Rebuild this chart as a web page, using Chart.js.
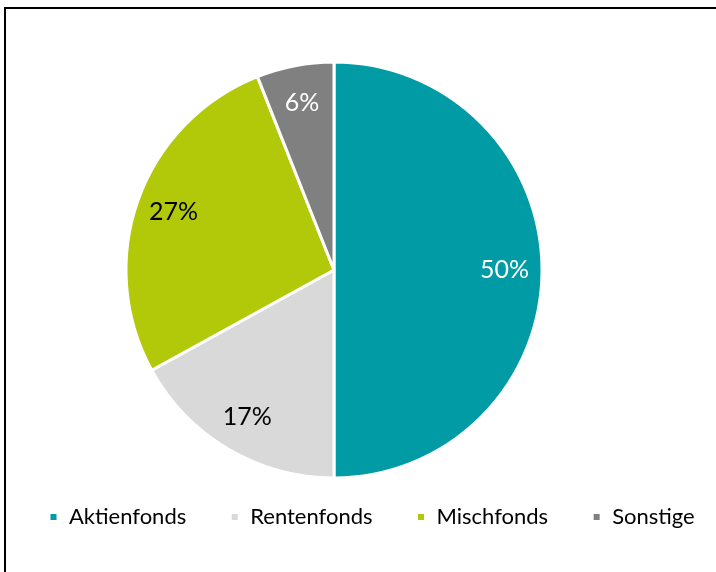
<!DOCTYPE html>
<html>
<head>
<meta charset="utf-8">
<script src="https://cdn.jsdelivr.net/npm/chart.js@4"></script>
<style>
  html, body { margin: 0; padding: 0; background: #fff; overflow: hidden; }
  #wrap { position: relative; width: 716px; height: 572px; overflow: hidden; }
  #frame { position: absolute; left: 4px; top: 7px; right: 0; bottom: 0;
           border-left: 2px solid #000; border-top: 2px solid #000; }
  canvas { position: absolute; left: 0; top: 0; }
</style>
</head>
<body>
<div id="wrap">
  <div id="frame"></div>
  <canvas id="fondsChart" width="760" height="572"></canvas>
</div>
<script>
const categories = ["Aktienfonds", "Rentenfonds", "Mischfonds", "Sonstige"];
const shares = [50, 17, 27, 6];
const sliceColors = ["#009BA4", "#D9D9D9", "#B2C90A", "#808080"];
const labelColors = ["#ffffff", "#000000", "#000000", "#ffffff"];

const FONT = "Lato, 'Open Sans', sans-serif";

// empty box on the right so the pie sits left of the legend's centre
const rightGap = {
  id: "rightGap",
  beforeInit(chart) {
    Chart.layouts.addBox(chart, {
      position: "right",
      weight: 0,
      fullSize: false,
      options: {},
      isHorizontal() { return false; },
      update(maxWidth, maxHeight) {
        this.width = 97;
        this.height = maxHeight;
      },
      draw() {}
    });
  }
};

// percent labels placed along each slice's middle angle
const sliceLabels = {
  id: "sliceLabels",
  afterDatasetsDraw(chart) {
    const ctx = chart.ctx;
    const meta = chart.getDatasetMeta(0);
    ctx.save();
    ctx.font = "25px " + FONT;
    ctx.textAlign = "center";
    ctx.textBaseline = "middle";
    meta.data.forEach((arc, i) => {
      const mid = (arc.startAngle + arc.endAngle) / 2;
      const r = arc.outerRadius * 0.82;
      ctx.fillStyle = labelColors[i];
      ctx.fillText(shares[i] + "%", arc.x + Math.cos(mid) * r, arc.y + Math.sin(mid) * r);
    });
    ctx.restore();
  }
};

new Chart(document.getElementById("fondsChart"), {
  type: "pie",
  data: {
    labels: categories,
    datasets: [{
      data: shares,
      backgroundColor: sliceColors,
      borderColor: "#ffffff",
      borderWidth: 3,
      hoverOffset: 0,
      radius: 208,
      clip: false
    }]
  },
  options: {
    responsive: false,
    animation: false,
    layout: { padding: { left: 5, right: 0, top: 78, bottom: 34 } },
    plugins: {
      tooltip: { enabled: false },
      legend: {
        position: "bottom",
        align: "start",
        labels: {
          boxWidth: 9,
          boxHeight: 9,
          padding: 44,
          color: "#000",
          font: { family: FONT, size: 22 }
        }
      }
    }
  },
  plugins: [rightGap, sliceLabels]
});
</script>
</body>
</html>
